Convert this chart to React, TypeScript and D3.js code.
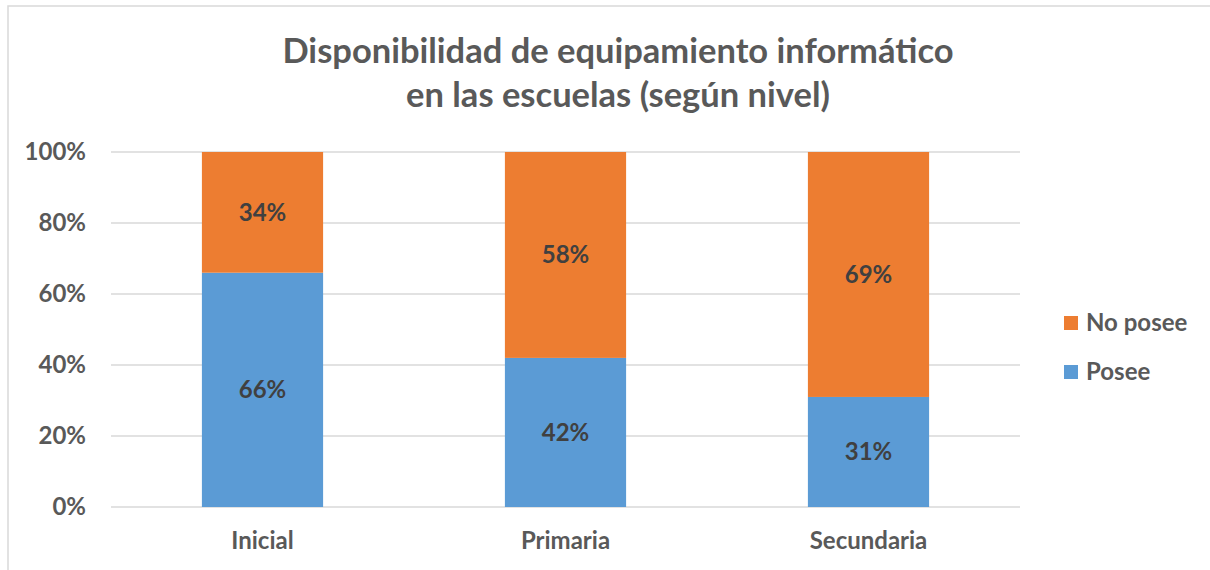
import React from 'react';
import * as d3 from 'd3';

const categories = ['Inicial', 'Primaria', 'Secundaria'];
const posee = [66, 42, 31];
const noPosee = [34, 58, 69];
const yTicks = [0, 20, 40, 60, 80, 100];
const seriesNames = ['Posee', 'No posee'];
const seriesColors = ['#5B9BD5', '#ED7D31'];

export default function App() {
  const width = 1210;
  const height = 570;
  const left = 111;
  const right = 1020;
  const top = 152;
  const bottom = 507;
  const font = 'Lato, "Open Sans", sans-serif';

  const x = d3.scaleBand<string>()
    .domain(categories)
    .range([left, right])
    .paddingInner(0.6)
    .paddingOuter(0.3);

  const y = d3.scaleLinear().domain([0, 100]).range([bottom, top]);

  const rows = categories.map((c, i) => ({ cat: c, Posee: posee[i], 'No posee': noPosee[i] }));
  const stacked = d3.stack<any>().keys(seriesNames)(rows);

  return (
    <svg width={width} height={height} style={{ position: 'absolute', left: 0, top: 0 }} fontFamily={font}>
      <rect x={0} y={0} width={width} height={height} fill="#fff" />
      <path d={`M8,${height} V6 H${width}`} fill="none" stroke="#D9D9D9" strokeWidth={1.5} />
      <text textAnchor="middle" fill="#595959" fontWeight="bold" fontSize={34.5}>
        <tspan x={618} y={63}>Disponibilidad de equipamiento informático</tspan>
        <tspan x={618} y={107}>en las escuelas (según nivel)</tspan>
      </text>
      {yTicks.map(t => (
        <g key={t}>
          <line x1={left} x2={right} y1={y(t)} y2={y(t)} stroke="#D9D9D9" strokeWidth={1.5} />
          <text x={86} y={y(t)} dy="0.35em" textAnchor="end" fill="#595959" fontWeight="bold" fontSize={24}>{t}%</text>
        </g>
      ))}
      {stacked.map((s, si) => (
        <g key={s.key}>
          {s.map((d, i) => (
            <g key={i}>
              <rect x={x(categories[i])} width={x.bandwidth()} y={y(d[1])} height={y(d[0]) - y(d[1])} fill={seriesColors[si]} />
              <text x={(x(categories[i]) as number) + x.bandwidth() / 2} y={(y(d[0]) + y(d[1])) / 2} dy="0.35em"
                textAnchor="middle" fill="#404040" fontWeight="bold" fontSize={24}>{d[1] - d[0]}%</text>
            </g>
          ))}
        </g>
      ))}
      {categories.map(c => (
        <text key={c} x={(x(c) as number) + x.bandwidth() / 2} y={541} dy="0.35em" textAnchor="middle" fill="#595959" fontWeight="bold" fontSize={24}>{c}</text>
      ))}
      {[1, 0].map((si, k) => (
        <g key={si}>
          <rect x={1064} y={[323, 372][k] - 7} width={14} height={14} fill={seriesColors[si]} />
          <text x={1086} y={[323, 372][k]} dy="0.35em" fill="#595959" fontWeight="bold" fontSize={24}>{seriesNames[si]}</text>
        </g>
      ))}
    </svg>
  );
}
